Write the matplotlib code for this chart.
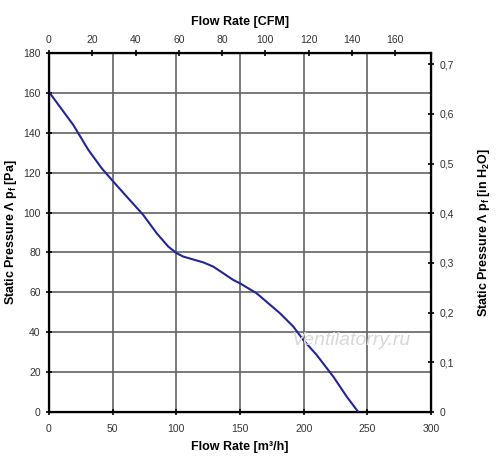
import matplotlib
matplotlib.use("Agg")
import matplotlib.pyplot as plt
import numpy as np

plt.rcParams['font.family'] = ['Liberation Sans', 'DejaVu Sans']
plt.rcParams['mathtext.fontset'] = 'custom'
plt.rcParams['mathtext.rm'] = 'Liberation Sans'
plt.rcParams['mathtext.it'] = 'Liberation Sans'
plt.rcParams['mathtext.bf'] = 'Liberation Sans:bold'

flow_m3h = [0, 0.5, 19.1, 30.9, 41.4, 50.5, 61, 74, 84.6, 93.7, 100.3, 105.5, 121.2, 129, 144.7,
            150, 163.1, 181.4, 191.9, 199.7, 210.2, 223.3, 233.8, 242.9]
pressure_pa = [160.5, 160, 143.9, 131.4, 122.2, 115.5, 108, 98.8, 89.6, 82.9, 79.6, 77.9, 75, 72.9, 66.2,
               64.5, 59.5, 49.5, 42.8, 36.1, 28.6, 17.7, 7.7, 0]

x_ticks = [0, 50, 100, 150, 200, 250, 300]
y_ticks = [0, 20, 40, 60, 80, 100, 120, 140, 160, 180]
cfm_ticks = [0, 20, 40, 60, 80, 100, 120, 140, 160]
inh2o_ticks = [0, 0.1, 0.2, 0.3, 0.4, 0.5, 0.6, 0.7]
inh2o_labels = ['0', '0,1', '0,2', '0,3', '0,4', '0,5', '0,6', '0,7']

M3H_PER_CFM = 1.699
PA_PER_INH2O = 249.09

fig = plt.figure(figsize=(5, 4.73), dpi=100)
ax = fig.add_axes([0.098, 0.129, 0.764, 0.759])

ax.plot(flow_m3h, pressure_pa, color='#24249a', lw=1.5, zorder=3)
ax.set_xlim(0, 300)
ax.set_ylim(0, 180)
ax.set_xticks(x_ticks)
ax.set_yticks(y_ticks)
ax.grid(True, color='#626262', lw=1.2)
for s in ax.spines.values():
    s.set_linewidth(1.6)
    s.set_color('black')
ax.tick_params(direction='inout', length=5, width=1.2, labelsize=7.5, labelcolor='#333333')
ax.tick_params(axis='x', pad=6)
ax.set_xlabel('Flow Rate [m³/h]', fontsize=9, fontweight='bold', labelpad=5)
ax.set_ylabel('Static Pressure Λ p$_\\mathbf{f}$ [Pa]', fontsize=9, fontweight='bold', labelpad=3)

top = ax.twiny()
top.set_xlim(0, 300 / M3H_PER_CFM)
top.set_xticks(cfm_ticks)
top.tick_params(direction='inout', length=5, width=1.2, labelsize=7.5, labelcolor='#333333')
top.set_xlabel('Flow Rate [CFM]', fontsize=9, fontweight='bold', labelpad=7)

right = ax.twinx()
right.set_ylim(0, 180 / PA_PER_INH2O)
right.set_yticks(inh2o_ticks)
right.set_yticklabels(inh2o_labels)
right.tick_params(direction='inout', length=5, width=1.2, labelsize=7.5, labelcolor='#333333')
right.set_ylabel('Static Pressure Λ p$_\\mathbf{f}$ [in H$_\\mathbf{2}$O]', fontsize=9, fontweight='bold', labelpad=16)

ax.text(0.79, 0.2, 'Ventilatorry.ru', transform=ax.transAxes, fontsize=14, style='italic',
        color='#d8d8d8', ha='center', va='center', zorder=4)

fig.savefig('out.png', dpi=100, facecolor='white')
